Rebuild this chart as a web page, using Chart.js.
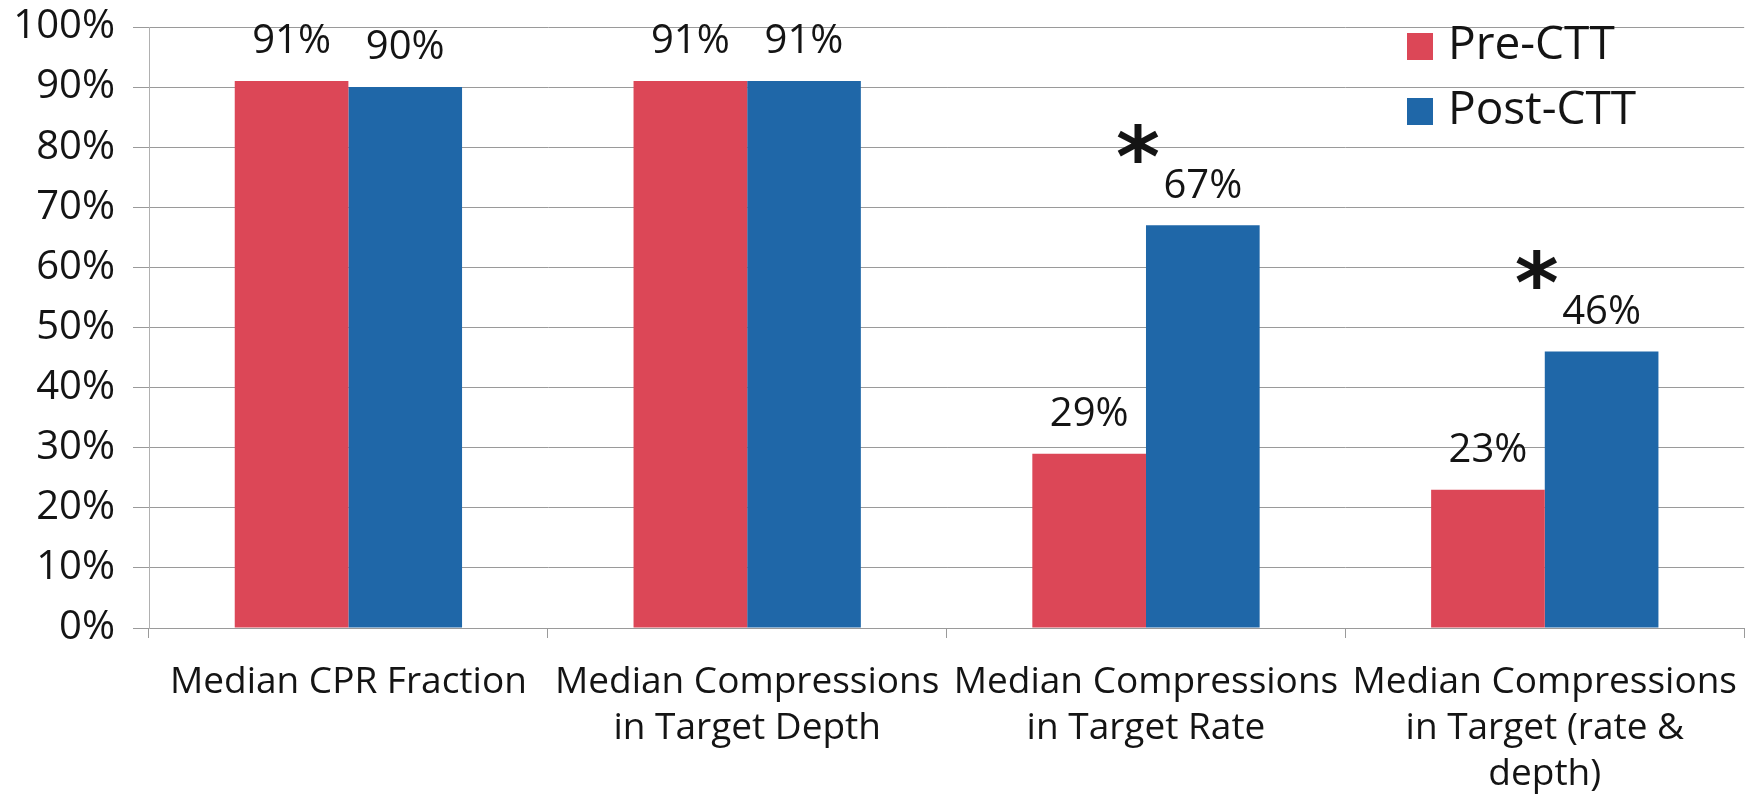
<!DOCTYPE html>
<html>
<head>
<meta charset="utf-8">
<script src="https://cdn.jsdelivr.net/npm/chart.js@4.4.1/dist/chart.umd.min.js"></script>
<style>
  html, body { margin: 0; padding: 0; background: #ffffff; }
  #wrap { width: 1759px; height: 801px; }
</style>
</head>
<body>
<div id="wrap"><canvas id="chart" width="1759" height="801"></canvas></div>
<script>
// Categories (multi-line axis labels)
const categories = [
  ["Median CPR Fraction"],
  ["Median Compressions", "in Target Depth"],
  ["Median Compressions", "in Target Rate"],
  ["Median Compressions", "in Target (rate &", "depth)"]
];
// Series values, in percent
const preCTT = [91, 91, 29, 23];
const postCTT = [90, 91, 67, 46];
// Categories with a significant pre/post difference (marked with an asterisk)
const significant = [false, false, true, true];
// Series names
const seriesNames = ["Pre-CTT", "Post-CTT"];
// Y axis tick values
const yTickValues = [0, 10, 20, 30, 40, 50, 60, 70, 80, 90, 100];

const RED = '#DC4757';
const BLUE = '#1F67A8';
const TEXT = '#141414';
const FONT = '"Open Sans", "Noto Sans", sans-serif';

// Value labels above bars, significance asterisks and the in-plot legend
const annotations = {
  id: 'annotations',
  afterDatasetsDraw(chart) {
    const ctx = chart.ctx;
    ctx.save();
    ctx.fillStyle = TEXT;
    ctx.textAlign = 'center';
    ctx.textBaseline = 'middle';
    ctx.font = '40px ' + FONT;
    chart.data.datasets.forEach((ds, i) => {
      chart.getDatasetMeta(i).data.forEach((bar, j) => {
        ctx.fillText(ds.data[j] + '%', bar.x, bar.y - 39);
      });
    });

    const postBars = chart.getDatasetMeta(1).data;
    ctx.font = 'bold 84px "DejaVu Sans", sans-serif';
    significant.forEach((sig, j) => {
      if (!sig) return;
      const b = postBars[j];
      ctx.fillText('*', b.x - b.width / 2 - 8, b.y - 39 - 22);
    });

    // Legend
    const lx = 1407, ly = [46, 111];
    ctx.textAlign = 'left';
    ctx.font = '46px ' + FONT;
    chart.data.datasets.forEach((ds, i) => {
      ctx.fillStyle = ds.backgroundColor;
      ctx.fillRect(lx, ly[i] - 13, 26, 27);
      ctx.fillStyle = TEXT;
      ctx.fillText(ds.label, lx + 41, ly[i]);
    });
    ctx.restore();
  }
};

new Chart(document.getElementById('chart'), {
  type: 'bar',
  data: {
    labels: categories,
    datasets: [
      { label: seriesNames[0], data: preCTT, backgroundColor: RED },
      { label: seriesNames[1], data: postCTT, backgroundColor: BLUE }
    ]
  },
  options: {
    responsive: false,
    animation: false,
    devicePixelRatio: 1,
    layout: { padding: { top: 27, right: 8, left: 0, bottom: 0 } },
    datasets: { bar: { categoryPercentage: 0.57, barPercentage: 1.0 } },
    plugins: {
      legend: { display: false },
      tooltip: { enabled: false }
    },
    scales: {
      x: {
        offset: true,
        grid: { drawOnChartArea: false, drawTicks: true, tickLength: 10, color: '#9a9a9a', offset: true },
        border: { display: true, color: '#9a9a9a' },
        ticks: {
          color: TEXT,
          font: { family: FONT, size: 37, lineHeight: 1.25 },
          padding: 21,
          maxRotation: 0,
          autoSkip: false
        },
        afterFit(scale) { scale.height = 173; }
      },
      y: {
        min: 0,
        max: 100,
        afterBuildTicks(scale) { scale.ticks = yTickValues.map(v => ({ value: v })); },
        grid: { color: '#9a9a9a', tickLength: 16, lineWidth: 1 },
        border: { display: true, color: '#b0b0b0' },
        ticks: {
          color: TEXT,
          font: { family: FONT, size: 40, lineHeight: 0.4 },
          padding: 18,
          callback: v => v + '%'
        },
        afterFit(scale) { scale.width = 149; }
      }
    }
  },
  plugins: [annotations]
});
</script>
</body>
</html>
